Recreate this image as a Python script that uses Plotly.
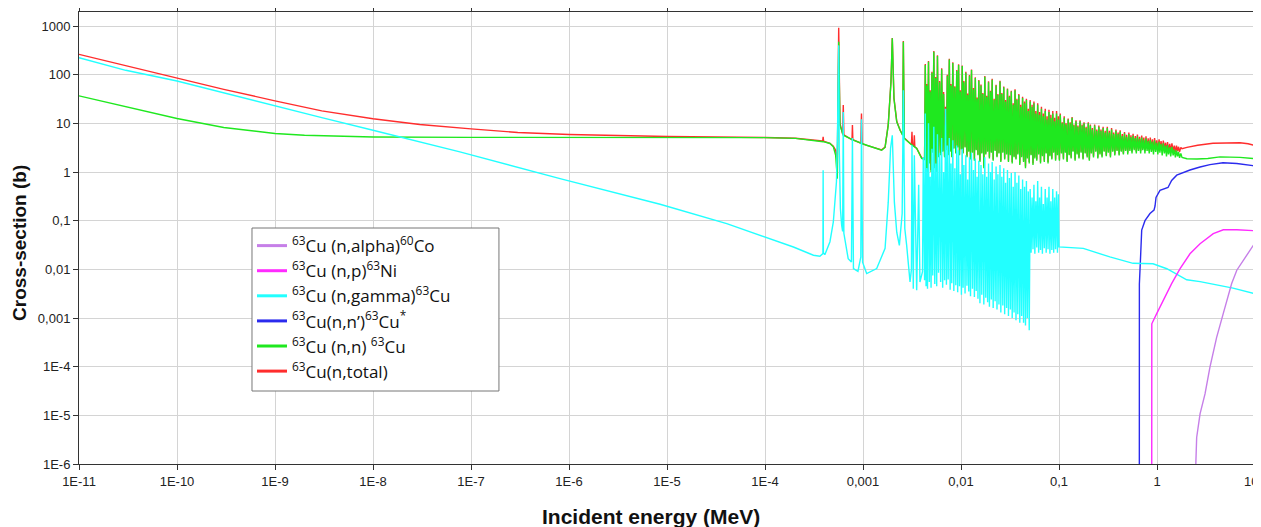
import plotly.graph_objects as go

# ---------------- axis ticks ----------------
x_tickvals = [1e-11, 1e-10, 1e-9, 1e-8, 1e-7, 1e-6, 1e-5, 1e-4, 1e-3, 1e-2, 1e-1, 1, 10]
x_ticktext = ["1E-11", "1E-10", "1E-9", "1E-8", "1E-7", "1E-6", "1E-5", "1E-4",
              "0,001", "0,01", "0,1", "1", "10"]
y_tickvals = [1e-6, 1e-5, 1e-4, 1e-3, 1e-2, 1e-1, 1, 10, 100, 1000]
y_ticktext = ["1E-6", "1E-5", "1E-4", "0,001", "0,01", "0,1", "1", "10", "100", "1000"]

# ---------------- shared resonance energy grids (MeV) ----------------
res_E_a = [0.00425, 0.00432, 0.00440, 0.00447, 0.00455, 0.00466, 0.00475, 0.00485,
           0.00495, 0.00505, 0.00515, 0.00528, 0.00540, 0.00552, 0.00565, 0.00575,
           0.00590, 0.00605, 0.00620, 0.00635, 0.00650, 0.00665, 0.00680, 0.00695,
           0.00710, 0.00725, 0.00740, 0.00760, 0.00775, 0.00790, 0.00805, 0.00825,
           0.00845, 0.00865, 0.00885, 0.00905, 0.00925, 0.00945, 0.00965, 0.00985,
           0.0101, 0.0103, 0.0105, 0.0107, 0.0110, 0.0112, 0.0115, 0.0117,
           0.0120, 0.0122, 0.0125, 0.0128, 0.0131, 0.0134, 0.0137, 0.0140,
           0.0143, 0.0146, 0.0149, 0.0152, 0.0156, 0.0160, 0.0163, 0.0167,
           0.0171, 0.0175, 0.0179, 0.0183, 0.0187, 0.0191, 0.0195, 0.0200,
           0.0204, 0.0208, 0.0213, 0.0218, 0.0223, 0.0228, 0.0233, 0.0238,
           0.0244, 0.0250, 0.0255, 0.0261, 0.0267, 0.0273, 0.0279, 0.0285,
           0.0292, 0.0298, 0.0305, 0.0312, 0.0319, 0.0326, 0.0333, 0.0341,
           0.0348, 0.0356, 0.0364, 0.0372, 0.0380, 0.0389, 0.0398, 0.0407,
           0.0416, 0.0425, 0.0435, 0.0445, 0.0455, 0.0465, 0.0475, 0.0486,
           0.0497, 0.0508, 0.0519, 0.0531, 0.0543, 0.0555, 0.0567, 0.0580,
           0.0593, 0.0606, 0.0620, 0.0634, 0.0648, 0.0662, 0.0677, 0.0692,
           0.0708, 0.0724, 0.0740, 0.0756, 0.0773, 0.0790, 0.0808, 0.0826,
           0.0845, 0.0864, 0.0883, 0.0903, 0.0923, 0.0944, 0.0965, 0.0987]

res_E_b = [0.101, 0.103, 0.106, 0.108, 0.111, 0.113, 0.116, 0.118,
           0.121, 0.124, 0.127, 0.130, 0.133, 0.136, 0.139, 0.142,
           0.146, 0.149, 0.153, 0.156, 0.160, 0.164, 0.168, 0.172,
           0.176, 0.180, 0.185, 0.189, 0.194, 0.199, 0.204, 0.209,
           0.214, 0.219, 0.225, 0.231, 0.237, 0.243, 0.249, 0.255,
           0.262, 0.268, 0.275, 0.282, 0.289, 0.296, 0.304, 0.311,
           0.319, 0.327, 0.335, 0.344, 0.353, 0.362, 0.371, 0.381,
           0.391, 0.401, 0.411, 0.421, 0.432, 0.443, 0.454, 0.466,
           0.478, 0.490, 0.503, 0.516, 0.529, 0.542, 0.556, 0.570,
           0.585, 0.600, 0.615, 0.631, 0.647, 0.664, 0.681, 0.698,
           0.716, 0.734, 0.753, 0.772, 0.792, 0.812, 0.833, 0.854,
           0.876, 0.898, 0.921, 0.945, 0.969, 0.994, 1.02, 1.05,
           1.07, 1.10, 1.13, 1.16, 1.19, 1.22, 1.25, 1.28,
           1.31, 1.35, 1.38, 1.42, 1.46, 1.50, 1.54, 1.58,
           1.62, 1.66, 1.70, 1.75]

# ---------------- 63Cu(n,total) ----------------
total_E_low = [1e-11, 3e-11, 1e-10, 3e-10, 1e-9, 3e-9, 1e-8, 3e-8, 1e-7, 3e-7, 1e-6,
               1e-5, 1e-4, 2.05e-4, 3.64e-4, 3.88e-4, 3.92e-4, 3.96e-4, 4.6e-4, 4.98e-4,
               5.26e-4, 5.47e-4, 5.65e-4, 5.82e-4, 6.20e-4, 6.29e-4, 6.38e-4, 7.72e-4,
               7.80e-4, 7.88e-4, 9.5e-4, 9.65e-4, 9.8e-4, 1.55e-3, 1.68e-3, 1.81e-3,
               1.93e-3, 1.99e-3, 2.07e-3, 2.21e-3, 2.39e-3, 2.54e-3, 2.58e-3, 2.64e-3,
               3.02e-3, 3.12e-3, 3.16e-3, 3.20e-3, 3.30e-3, 3.34e-3, 3.38e-3, 3.53e-3,
               3.97e-3]
total_S_low = [262, 152, 86, 50, 29, 18, 12.4, 9.5, 7.7, 6.5, 5.9,
               5.37, 5.13, 4.95, 4.4, 4.35, 5.3, 4.3, 3.9, 3.4,
               2.8, 1.5, 923, 10, 6.0, 23.7, 5.8, 4.6,
               9.2, 4.6, 3.9, 16, 3.8, 2.85, 3.25, 9.5,
               73, 570, 33, 11, 7.3, 5.8, 490, 5.0,
               3.9, 3.7, 6.7, 3.6, 3.4, 5.7, 3.3, 3.1,
               1.95]
total_S_a = [1.9, 165, 1.3, 64, 1.0, 190, 1.6, 48,
             1.1, 115, 2.6, 305, 1.3, 90, 1.1, 250,
             2.1, 74, 2.3, 136, 2.7, 44, 2.1, 22,
             2.9, 100, 2.3, 212, 2.7, 64, 2.1, 180,
             3.1, 58, 2.5, 125, 3.3, 163, 2.3, 48,
             3.0, 155, 2.5, 74, 3.3, 115, 2.1, 41,
             2.7, 99, 1.9, 128, 2.6, 53, 1.8, 89,
             2.9, 34, 2.3, 78, 1.7, 63, 2.5, 42,
             1.3, 94, 2.4, 37, 2.7, 73, 2.0, 47,
             2.6, 82, 1.8, 32, 2.8, 62, 2.1, 40,
             2.5, 75, 1.7, 42, 2.6, 57, 1.9, 30,
             2.4, 52, 1.7, 37, 2.3, 47, 1.6, 26,
             2.1, 50, 1.9, 32, 2.4, 40, 1.5, 24,
             2.1, 35, 1.7, 28, 1.3, 32, 2.0, 20,
             1.6, 30, 2.3, 24, 1.5, 28, 2.0, 18,
             1.8, 26, 2.4, 17, 1.6, 22, 2.2, 16,
             1.7, 20, 2.5, 14, 1.6, 19, 2.2, 15,
             1.9, 18, 2.6, 13, 1.8, 18, 2.3, 14]
total_S_b = [1.8, 16, 2.5, 10.5, 1.9, 14, 2.6, 10,
             1.7, 12.5, 2.3, 10.5, 2.0, 13.5, 2.7, 9.5,
             1.8, 11.5, 2.4, 9, 2.0, 11.5, 2.6, 9.5,
             1.9, 10.5, 2.5, 8.5, 2.1, 10.5, 1.8, 9.5,
             2.5, 8, 2.1, 9.5, 2.7, 7.5, 2.0, 9,
             2.4, 7.5, 2.1, 8.5, 2.7, 7, 2.2, 8.5,
             2.6, 7, 2.1, 8, 2.7, 6.5, 2.3, 7.5,
             2.8, 6.5, 2.3, 7.2, 2.7, 6, 2.4, 6.6,
             2.8, 5.8, 2.5, 6.5, 2.9, 5.7, 2.6, 6.1,
             3.0, 5.5, 2.6, 5.9, 2.9, 5.3, 2.7, 5.6,
             3.0, 5.1, 2.7, 5.4, 3.0, 4.9, 2.7, 5.1,
             2.9, 4.7, 2.7, 5.0, 2.9, 4.5, 2.7, 4.7,
             2.9, 4.3, 2.7, 4.4, 2.8, 4.0, 2.6, 4.1,
             2.8, 3.8, 2.6, 3.9, 2.7, 3.5, 2.6, 3.5,
             2.7, 3.3, 2.6, 3.2]
total_E_high = [1.80, 2.02, 2.6, 3.72, 5.0, 7.03, 8.5, 10]
total_S_high = [3.0, 3.2, 3.55, 3.9, 4.0, 4.0, 3.8, 3.5]

# ---------------- 63Cu(n,n) elastic ----------------
elastic_E_low = [1e-11, 3e-11, 1e-10, 3e-10, 1e-9, 2e-9, 5e-9, 1e-8, 1e-7, 1e-6, 1e-5,
                 1e-4, 2.05e-4, 3.64e-4, 3.92e-4, 4.6e-4, 4.98e-4, 5.26e-4, 5.47e-4,
                 5.65e-4, 5.82e-4, 6.29e-4, 7.96e-4, 1.09e-3, 1.55e-3, 1.68e-3, 1.81e-3,
                 1.93e-3, 1.99e-3, 2.07e-3, 2.21e-3, 2.39e-3, 2.54e-3, 2.58e-3, 2.64e-3,
                 3.02e-3, 3.53e-3, 3.97e-3]
elastic_S_low = [36.8, 22.3, 12.6, 8.2, 6.2, 5.7, 5.35, 5.25, 5.15, 5.13, 5.12,
                 5.1, 4.9, 4.35, 4.2, 3.86, 3.3, 2.2, 0.73,
                 475, 9.2, 5.7, 4.5, 3.55, 2.8, 3.2, 9.2,
                 71, 558, 32, 10.7, 7.2, 5.7, 475, 4.9,
                 3.86, 3.04, 1.9]
elastic_S_a = [1.8, 158, 1.2, 60, 0.95, 184, 1.5, 45,
               1.0, 110, 2.5, 295, 1.2, 85, 1.0, 242,
               2.0, 70, 2.2, 130, 2.6, 40, 2.0, 9,
               2.8, 95, 2.2, 206, 2.6, 60, 2.0, 174,
               3.0, 55, 2.4, 120, 3.2, 158, 2.2, 45,
               2.9, 150, 2.4, 70, 3.2, 110, 2.0, 38,
               2.6, 95, 1.8, 124, 2.5, 50, 1.7, 85,
               2.8, 32, 2.2, 75, 1.6, 60, 2.4, 40,
               1.2, 91, 2.3, 35, 2.6, 70, 1.9, 45,
               2.5, 79, 1.7, 30, 2.7, 60, 2.0, 38,
               2.4, 72, 1.6, 40, 2.5, 55, 1.8, 28,
               2.3, 50, 1.6, 35, 2.2, 45, 1.5, 24,
               2.0, 48, 1.8, 30, 2.3, 38, 1.4, 22,
               2.0, 33, 1.6, 26, 1.2, 30, 1.9, 18,
               1.5, 28, 2.2, 22, 1.4, 26, 1.9, 16,
               1.7, 24, 2.3, 15, 1.5, 20, 2.1, 14,
               1.6, 18, 2.4, 12, 1.5, 17, 2.1, 13,
               1.8, 16, 2.5, 11, 1.7, 16, 2.2, 12]
elastic_S_b = [1.7, 15, 2.4, 10, 1.8, 13, 2.5, 9.5,
               1.6, 12, 2.2, 10, 1.9, 13, 2.6, 9,
               1.7, 11, 2.3, 8.5, 1.9, 11, 2.5, 9,
               1.8, 10, 2.4, 8, 2.0, 10, 1.7, 9,
               2.4, 7.5, 2.0, 9, 2.6, 7, 1.9, 8.5,
               2.3, 7, 2.0, 8, 2.6, 6.5, 2.1, 8,
               2.5, 6.5, 2.0, 7.5, 2.6, 6, 2.2, 7,
               2.7, 6, 2.2, 6.8, 2.6, 5.5, 2.3, 6.2,
               2.7, 5.3, 2.3, 6, 2.7, 5.2, 2.4, 5.6,
               2.8, 5, 2.4, 5.4, 2.7, 4.8, 2.4, 5.1,
               2.8, 4.6, 2.4, 4.9, 2.7, 4.4, 2.4, 4.6,
               2.6, 4.2, 2.3, 4.5, 2.6, 4.0, 2.3, 4.2,
               2.5, 3.8, 2.2, 3.9, 2.4, 3.5, 2.1, 3.6,
               2.3, 3.2, 2.1, 3.3, 2.2, 2.9, 2.0, 2.8,
               2.1, 2.6, 1.95, 2.4]
elastic_E_high = [1.80, 2.02, 2.56, 3.3, 4.39, 7.03, 10]
elastic_S_high = [2.0, 1.87, 1.85, 1.9, 2.05, 2.0, 1.88]

# ---------------- 63Cu(n,gamma) capture ----------------
capture_E_low = [1e-11, 3e-11, 1e-10, 3e-10, 1e-9, 3e-9, 1e-8, 3e-8, 7.7e-8, 8.1e-7,
                 8.5e-6, 4.07e-5, 8.9e-5, 1.95e-4, 3.12e-4, 3.63e-4, 3.90e-4, 3.92e-4,
                 3.94e-4, 4.08e-4, 4.6e-4, 4.98e-4, 5.36e-4, 5.5e-4, 5.65e-4, 5.72e-4,
                 5.88e-4, 6.06e-4, 6.20e-4, 6.29e-4, 6.38e-4, 7.06e-4, 7.62e-4, 7.80e-4,
                 7.99e-4, 8.88e-4, 9.5e-4, 9.65e-4, 9.9e-4, 1.09e-3, 1.38e-3, 1.68e-3,
                 1.81e-3, 1.91e-3, 1.99e-3, 2.09e-3, 2.21e-3, 2.35e-3, 2.51e-3, 2.58e-3,
                 2.67e-3, 2.79e-3, 3.02e-3, 3.12e-3, 3.16e-3, 3.26e-3, 3.34e-3, 3.53e-3,
                 3.70e-3, 3.81e-3, 4.05e-3, 4.12e-3]
capture_S_low = [223, 123, 74, 42, 23, 13.1, 7.2, 4.1, 2.6, 0.73,
                 0.217, 0.087, 0.050, 0.0288, 0.0195, 0.0186, 0.021, 1.09,
                 0.022, 0.02, 0.037, 0.094, 0.63, 8, 400, 3.2,
                 0.177, 0.08, 0.06, 17.2, 0.055, 0.0166, 0.0141, 5.0,
                 0.0104, 0.0091, 0.018, 12.2, 0.014, 0.0082, 0.0104, 0.027,
                 0.24, 3.04, 5.7, 0.24, 0.058, 0.031, 0.14, 48,
                 0.069, 0.031, 0.0055, 0.01, 3.55, 0.004, 2.2, 0.0037,
                 0.55, 0.0055, 0.009, 2.0]
capture_S_a = [0.006, 16, 0.0045, 1.2, 0.004, 10, 0.0055, 0.8,
               0.0042, 3.0, 0.0075, 8.5, 0.005, 1.5, 0.0045, 6,
               0.0085, 2.5, 0.0055, 5, 0.0042, 1.0, 0.006, 20,
               0.0048, 3.5, 0.0062, 5, 0.0038, 1.5, 0.0052, 4.5,
               0.0036, 1.2, 0.0047, 3.5, 0.0034, 2.8, 0.0045, 0.9,
               0.0030, 3.0, 0.0042, 1.4, 0.0032, 2.2, 0.0046, 0.7,
               0.0035, 2.0, 0.0028, 2.5, 0.0040, 1.1, 0.0027, 1.9,
               0.0036, 0.8, 0.0025, 1.7, 0.0020, 1.4, 0.0030, 0.9,
               0.0019, 2.0, 0.0026, 0.8, 0.0021, 1.5, 0.0017, 1.0,
               0.0024, 1.6, 0.0016, 0.7, 0.0022, 1.3, 0.0015, 0.9,
               0.0019, 1.4, 0.0013, 0.8, 0.0018, 1.2, 0.0012, 0.6,
               0.0016, 1.1, 0.0011, 0.75, 0.0015, 0.95, 0.0010, 0.5,
               0.0013, 1.0, 0.0009, 0.6, 0.0012, 0.85, 0.0008, 0.45,
               0.0011, 0.7, 0.0008, 0.5, 0.0007, 0.65, 0.0010, 0.4,
               0.00056, 0.45, 0.022, 0.3, 0.026, 0.55, 0.021, 0.25,
               0.028, 0.65, 0.022, 0.3, 0.025, 0.5, 0.021, 0.22,
               0.027, 0.45, 0.022, 0.3, 0.026, 0.5, 0.021, 0.25,
               0.025, 0.45, 0.022, 0.3, 0.026, 0.4, 0.022, 0.35]
capture_E_high = [0.100, 0.177, 0.33, 0.57, 0.91, 1.26, 2.01, 2.75, 5.97, 9.77, 10]
capture_S_high = [0.029, 0.027, 0.018, 0.0133, 0.013, 0.0103, 0.0061, 0.0056, 0.0041,
                  0.0032, 0.0032]

# ---------------- 63Cu(n,n') inelastic ----------------
inel_E = [0.660, 0.661, 0.682, 0.698, 0.754, 0.848, 0.932, 0.955, 0.977, 1.073,
          1.295, 1.41, 1.59, 2.17, 2.75, 3.47, 4.71, 6.52, 9.5, 10]
inel_S = [1e-8, 0.005, 0.021, 0.064, 0.1, 0.14, 0.165, 0.2, 0.3, 0.42,
          0.48, 0.67, 0.86, 1.1, 1.27, 1.42, 1.55, 1.5, 1.35, 1.3]

# ---------------- 63Cu(n,p) ----------------
np_E = [0.883, 0.885, 0.993, 1.16, 1.41, 1.72, 2.17, 2.75, 3.75, 4.75, 6.52, 10]
np_S = [1e-8, 7.6e-4, 1.23e-3, 2.3e-3, 5.1e-3, 0.0103, 0.0209, 0.0337, 0.0541, 0.065,
        0.065, 0.062]

# ---------------- 63Cu(n,alpha) ----------------
na_E = [2.40, 2.54, 2.75, 3.09, 3.47, 4.06, 4.74, 5.78, 6.52, 7.59, 9.6, 10]
na_S = [1e-7, 3.5e-6, 1.07e-5, 2.76e-5, 9.8e-5, 4.0e-4, 1.23e-3, 5.1e-3, 9.6e-3, 0.0154,
        0.031, 0.033]

for a, b in [(res_E_a, total_S_a), (res_E_a, elastic_S_a), (res_E_a, capture_S_a),
             (res_E_b, total_S_b), (res_E_b, elastic_S_b),
             (total_E_low, total_S_low), (elastic_E_low, elastic_S_low),
             (capture_E_low, capture_S_low)]:
    assert len(a) == len(b), (len(a), len(b))

total_E = total_E_low + res_E_a + res_E_b + total_E_high
total_S = total_S_low + total_S_a + total_S_b + total_S_high
elastic_E = elastic_E_low + res_E_a + res_E_b + elastic_E_high
elastic_S = elastic_S_low + elastic_S_a + elastic_S_b + elastic_S_high
capture_E = capture_E_low + res_E_a + capture_E_high
capture_S = capture_S_low + capture_S_a + capture_S_high

names = {
    "na": "<sup>63</sup>Cu (n,alpha)<sup>60</sup>Co",
    "np": "<sup>63</sup>Cu (n,p)<sup>63</sup>Ni",
    "ng": "<sup>63</sup>Cu (n,gamma)<sup>63</sup>Cu",
    "nn'": "<sup>63</sup>Cu(n,n’)<sup>63</sup>Cu<sup>*</sup>",
    "nn": "<sup>63</sup>Cu (n,n) <sup>63</sup>Cu",
    "nt": "<sup>63</sup>Cu(n,total)",
}
colors = {"na": "#c67fe8", "np": "#ff2bff", "ng": "#22ffff", "nn'": "#2b2bee",
          "nn": "#1fe81f", "nt": "#ff2d2d"}

series = [("nt", total_E, total_S), ("nn", elastic_E, elastic_S),
          ("nn'", inel_E, inel_S), ("ng", capture_E, capture_S),
          ("np", np_E, np_S), ("na", na_E, na_S)]

fig = go.Figure()
LW = 1.4
for key, xs, ys in series:
    fig.add_trace(go.Scatter(x=xs, y=ys, mode="lines", showlegend=False,
                             hoverinfo="skip",
                             line=dict(color=colors[key], width=LW)))
# legend entries (thicker sample lines, no data)
for key, _, _ in series:
    fig.add_trace(go.Scatter(x=[None], y=[None], mode="lines", name=names[key],
                             line=dict(color=colors[key], width=3)))

tick_font = dict(family="Liberation Sans Narrow, Liberation Sans, Arial",
                 size=13, color="#222")
axis_common = dict(type="log", showgrid=True, gridcolor="#d4d4d4", gridwidth=1,
                   showline=True, linecolor="#333", linewidth=1, mirror="ticks",
                   ticks="outside", ticklen=5, tickcolor="#333", tickfont=tick_font,
                   zeroline=False, automargin=False)

# The last x tick label sits on the window edge; it is drawn as an annotation
# right-aligned at the axis end so it stays fully visible.
x_ticktext_axis = x_ticktext[:-1] + [""]

# The page body has an 8 px default margin: the figure is sized so that the
# plotting area lands where the reference's does inside the 1261x527 window.
PAGE_PAD = 8
fig.update_layout(
    width=1261 - PAGE_PAD, height=527 - PAGE_PAD,
    margin=dict(l=79 - PAGE_PAD, r=6, t=12 - PAGE_PAD, b=63),
    paper_bgcolor="white", plot_bgcolor="white",
    showlegend=True,
    legend=dict(x=0.1471, y=0.522, xanchor="left", yanchor="top",
                traceorder="reversed", bgcolor="rgba(0,0,0,0)",
                borderwidth=0, itemwidth=30,
                font=dict(family="Open Sans, Noto Sans, Liberation Sans", size=17,
                          color="#111")),
    shapes=[dict(type="rect", xref="paper", yref="paper",
                 x0=0.1471, x1=0.3571, y0=0.1615, y1=0.5221, layer="above",
                 line=dict(color="#777", width=1), fillcolor="white")],
    xaxis=dict(range=[-11, 1], tickvals=x_tickvals, ticktext=x_ticktext_axis,
               **axis_common),
    yaxis=dict(range=[-6, 3.288], tickvals=y_tickvals, ticktext=y_ticktext, **axis_common),
    annotations=[
        dict(text=x_ticktext[-1], xref="paper", yref="paper", x=1, y=0,
             xanchor="right", yanchor="middle", xshift=5, yshift=-17,
             showarrow=False, font=tick_font),
        dict(text="<b>Incident energy (MeV)</b>", xref="paper", yref="paper",
             x=0.4864, y=0, xanchor="center", yanchor="middle", yshift=-52,
             showarrow=False,
             font=dict(family="Liberation Sans, Arial", size=21, color="#111")),
        dict(text="<b>Cross-section (b)</b>", xref="paper", yref="paper",
             x=0, y=0.489, xanchor="center", yanchor="middle", xshift=-59,
             textangle=-90, showarrow=False,
             font=dict(family="Liberation Sans, Arial", size=19, color="#111")),
    ],
)

fig.write_html("out.html")
